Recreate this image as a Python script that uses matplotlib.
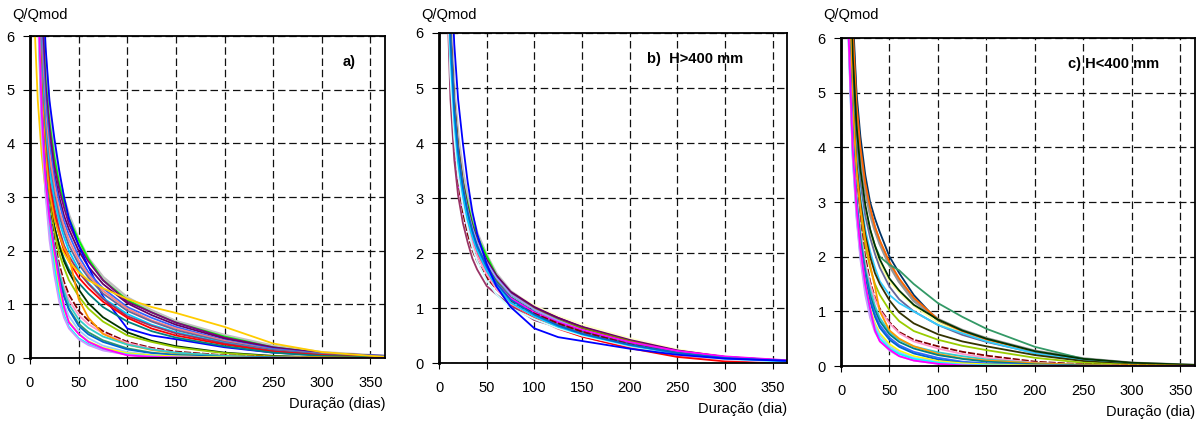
import matplotlib
matplotlib.use("Agg")
import matplotlib.pyplot as plt

plt.rcParams['font.family'] = ['Liberation Sans', 'DejaVu Sans']

dur = [4, 8, 12, 16, 20, 25, 30, 35, 40, 50, 60, 75, 100, 125, 150, 200, 250, 300, 365]

# ---- panel a) all stations
a_q = [
    [15, 9.5, 7.0, 5.5, 4.6, 3.9, 3.35, 2.95, 2.65, 2.2, 1.85, 1.5, 1.12, 0.88, 0.68, 0.42, 0.22, 0.1, 0.03],
    [14, 9.0, 6.6, 5.2, 4.4, 3.75, 3.25, 2.9, 2.6, 2.2, 1.85, 1.45, 1.08, 0.85, 0.66, 0.4, 0.2, 0.09, 0.03],
    [14, 9.0, 6.6, 5.1, 4.3, 3.6, 3.15, 2.8, 2.5, 2.1, 1.8, 1.45, 1.05, 0.85, 0.66, 0.38, 0.2, 0.09, 0.03],
    [13, 8.5, 6.2, 4.9, 4.1, 3.45, 3.0, 2.65, 2.4, 2.0, 1.7, 1.38, 1.02, 0.8, 0.62, 0.36, 0.19, 0.09, 0.04],
    [18, 10.5, 7.5, 5.8, 4.8, 4.1, 3.5, 3.0, 2.6, 2.1, 1.7, 1.15, 0.55, 0.42, 0.35, 0.2, 0.1, 0.05, 0.02],
    [13, 8.3, 6.0, 4.8, 4.0, 3.35, 2.9, 2.55, 2.3, 1.9, 1.6, 1.3, 0.95, 0.75, 0.58, 0.33, 0.17, 0.08, 0.04],
    [12, 7.8, 5.7, 4.5, 3.8, 3.2, 2.75, 2.45, 2.2, 1.82, 1.55, 1.25, 0.92, 0.7, 0.55, 0.32, 0.15, 0.07, 0.02],
    [12, 7.5, 5.5, 4.3, 3.6, 3.05, 2.65, 2.35, 2.1, 1.75, 1.5, 1.2, 0.88, 0.68, 0.52, 0.3, 0.15, 0.07, 0.03],
    [11, 7.2, 5.3, 4.2, 3.5, 2.95, 2.55, 2.25, 2.0, 1.65, 1.4, 1.12, 0.82, 0.62, 0.48, 0.28, 0.13, 0.06, 0.02],
    [11, 7.0, 5.1, 4.0, 3.3, 2.8, 2.4, 2.1, 1.9, 1.6, 1.38, 1.1, 0.78, 0.6, 0.46, 0.27, 0.13, 0.06, 0.02],
    [10, 6.6, 4.9, 3.8, 3.2, 2.7, 2.3, 2.0, 1.8, 1.5, 1.3, 1.05, 0.75, 0.55, 0.42, 0.25, 0.12, 0.05, 0.01],
    [10, 6.5, 4.7, 3.6, 2.95, 2.45, 2.1, 1.85, 1.65, 1.4, 1.2, 0.95, 0.68, 0.5, 0.38, 0.22, 0.1, 0.04, 0.01],
    [6.5, 4.8, 3.8, 3.1, 2.7, 2.35, 2.1, 1.95, 1.8, 1.6, 1.45, 1.3, 1.1, 0.95, 0.84, 0.58, 0.27, 0.11, 0.02],
    [11, 7.0, 4.8, 3.7, 3.0, 2.45, 2.1, 1.8, 1.6, 1.28, 1.02, 0.76, 0.48, 0.32, 0.22, 0.1, 0.04, 0.01, 0],
    [11, 6.9, 4.7, 3.6, 2.9, 2.35, 1.95, 1.68, 1.45, 1.15, 0.92, 0.68, 0.42, 0.3, 0.2, 0.09, 0.03, 0.01, 0],
    [11, 7.0, 4.7, 3.5, 2.8, 2.2, 1.75, 1.42, 1.18, 0.88, 0.7, 0.5, 0.3, 0.19, 0.12, 0.05, 0.02, 0, 0],
    [11, 7.0, 4.6, 3.4, 2.7, 2.1, 1.65, 1.32, 1.08, 0.8, 0.63, 0.46, 0.28, 0.17, 0.1, 0.04, 0.01, 0, 0],
    [11, 7.2, 5.0, 3.8, 3.1, 2.6, 2.3, 2.05, 1.9, 1.1, 0.75, 0.45, 0.25, 0.15, 0.09, 0.04, 0.02, 0.01, 0],
    [11, 6.8, 4.6, 3.4, 2.7, 2.1, 1.6, 1.25, 1.0, 0.72, 0.56, 0.4, 0.25, 0.16, 0.1, 0.04, 0.01, 0, 0],
    [10.5, 6.8, 4.5, 3.3, 2.6, 2.0, 1.5, 1.15, 0.92, 0.64, 0.48, 0.33, 0.18, 0.1, 0.06, 0.02, 0, 0, 0],
    [11, 7.2, 4.7, 3.4, 2.65, 2.0, 1.5, 1.15, 0.9, 0.6, 0.44, 0.3, 0.16, 0.09, 0.05, 0.02, 0.01, 0, 0],
    [10.5, 7.0, 4.5, 3.25, 2.5, 1.85, 1.35, 1.0, 0.78, 0.52, 0.37, 0.23, 0.11, 0.06, 0.03, 0.01, 0, 0, 0],
    [10.5, 6.8, 4.4, 3.2, 2.45, 1.8, 1.25, 0.9, 0.68, 0.45, 0.31, 0.19, 0.09, 0.05, 0.03, 0.01, 0, 0, 0],
    [10, 6.6, 4.3, 3.1, 2.35, 1.7, 1.15, 0.8, 0.58, 0.37, 0.26, 0.15, 0.07, 0.03, 0.01, 0, 0, 0, 0],
    [10, 6.5, 4.2, 3.05, 2.2, 1.55, 1.05, 0.75, 0.55, 0.35, 0.24, 0.14, 0.06, 0.03, 0.01, 0, 0, 0, 0],
    [11, 7.0, 4.6, 3.3, 2.6, 2.0, 1.45, 0.95, 0.66, 0.45, 0.3, 0.18, 0.05, 0.02, 0.01, 0, 0, 0, 0],
]
a_colors = ['#C0C0C0', '#00FF00', '#800080', '#660066', '#0000FF', '#3366FF', '#FF8080',
            '#666699', '#00CCFF', '#993366', '#FF0000', '#008080', '#FFCC00', '#003300',
            '#99CC00', '#800000', '#FF99CC', '#FF9900', '#33CCCC', '#339966', '#0066CC',
            '#99CCFF', '#FFFF00', '#00FFFF', '#CC99FF', '#FF00FF']

# ---- panel b) H > 400 mm
b_q = [
    [16, 9.0, 6.3, 4.9, 4.1, 3.45, 3.0, 2.65, 2.35, 1.95, 1.62, 1.3, 1.0, 0.8, 0.64, 0.4, 0.21, 0.1, 0.03],
    [15, 8.6, 6.0, 4.7, 3.9, 3.3, 2.9, 2.55, 2.3, 1.95, 1.6, 1.25, 0.98, 0.78, 0.62, 0.38, 0.2, 0.09, 0.03],
    [13, 7.5, 5.3, 4.2, 3.55, 3.0, 2.65, 2.35, 2.1, 1.8, 1.55, 1.3, 1.05, 0.85, 0.7, 0.45, 0.25, 0.12, 0.04],
    [15, 8.5, 5.9, 4.6, 3.85, 3.2, 2.8, 2.45, 2.2, 1.85, 1.58, 1.28, 1.0, 0.82, 0.65, 0.4, 0.22, 0.11, 0.04],
    [16, 8.8, 6.1, 4.75, 3.95, 3.3, 2.85, 2.5, 2.25, 1.88, 1.6, 1.3, 1.02, 0.82, 0.66, 0.42, 0.23, 0.11, 0.04],
    [15, 8.6, 6.0, 4.7, 3.9, 3.25, 2.8, 2.45, 2.2, 1.82, 1.52, 1.25, 0.98, 0.78, 0.63, 0.4, 0.2, 0.09, 0.03],
    [15, 8.5, 5.9, 4.6, 3.8, 3.2, 2.78, 2.45, 2.2, 1.83, 1.55, 1.25, 0.97, 0.77, 0.6, 0.37, 0.2, 0.1, 0.04],
    [15, 8.3, 5.8, 4.5, 3.75, 3.15, 2.7, 2.38, 2.12, 1.76, 1.48, 1.2, 0.93, 0.73, 0.58, 0.36, 0.19, 0.09, 0.03],
    [14, 8.0, 5.6, 4.35, 3.6, 3.0, 2.6, 2.3, 2.05, 1.72, 1.45, 1.16, 0.9, 0.7, 0.55, 0.34, 0.18, 0.08, 0.03],
    [14, 7.8, 5.3, 4.0, 3.3, 2.8, 2.45, 2.2, 2.0, 1.7, 1.45, 1.18, 0.92, 0.74, 0.6, 0.38, 0.22, 0.12, 0.05],
    [13, 7.6, 5.2, 4.0, 3.3, 2.75, 2.35, 2.05, 1.85, 1.55, 1.35, 1.12, 0.9, 0.72, 0.57, 0.34, 0.17, 0.07, 0.02],
    [12, 7.0, 4.8, 3.7, 3.05, 2.55, 2.2, 1.9, 1.7, 1.4, 1.25, 1.05, 0.78, 0.65, 0.52, 0.32, 0.17, 0.08, 0.02],
    [14, 8.0, 5.5, 4.3, 3.55, 2.95, 2.55, 2.25, 2.0, 1.65, 1.38, 1.1, 0.82, 0.62, 0.48, 0.28, 0.13, 0.05, 0.01],
    [14, 7.8, 5.4, 4.2, 3.5, 2.9, 2.5, 2.2, 1.97, 1.62, 1.36, 1.08, 0.83, 0.63, 0.48, 0.27, 0.11, 0.03, 0.0],
    [13, 7.6, 5.3, 4.15, 3.45, 2.9, 2.5, 2.2, 1.95, 1.62, 1.35, 1.08, 0.85, 0.66, 0.5, 0.3, 0.15, 0.06, 0.02],
    [13, 7.5, 5.2, 4.1, 3.4, 2.85, 2.45, 2.1, 1.85, 1.5, 1.25, 1.0, 0.8, 0.63, 0.5, 0.31, 0.16, 0.07, 0.02],
    [14, 8.0, 5.6, 4.4, 3.65, 3.05, 2.6, 2.3, 2.05, 1.68, 1.4, 1.1, 0.85, 0.66, 0.52, 0.32, 0.17, 0.08, 0.03],
    [15, 8.4, 5.9, 4.6, 3.85, 3.2, 2.75, 2.4, 2.12, 1.75, 1.45, 1.15, 0.88, 0.68, 0.53, 0.33, 0.18, 0.09, 0.04],
    [18, 10.5, 7.4, 5.8, 4.8, 4.0, 3.3, 2.75, 2.35, 1.8, 1.4, 1.02, 0.63, 0.47, 0.4, 0.26, 0.15, 0.08, 0.04],
]
b_colors = ['#C0C0C0', '#00FF00', '#FFFFCC', '#800080', '#660066', '#808000', '#9999FF',
            '#008080', '#666699', '#FF00FF', '#800000', '#993366', '#FF8080', '#FF0000',
            '#FF99CC', '#CCFFFF', '#00CCFF', '#0066CC', '#0000FF']

# ---- panel c) H < 400 mm
c_q = [
    [14, 8.4, 6.0, 4.7, 3.9, 3.25, 2.8, 2.5, 2.25, 1.85, 1.55, 1.2, 0.85, 0.65, 0.5, 0.27, 0.13, 0.05, 0.01],
    [15, 9.0, 6.5, 5.0, 4.2, 3.5, 3.0, 2.7, 2.45, 2.0, 1.7, 1.3, 0.82, 0.62, 0.48, 0.25, 0.12, 0.05, 0.01],
    [14, 8.5, 6.2, 4.8, 4.0, 3.35, 2.9, 2.55, 2.3, 1.9, 1.6, 1.25, 0.85, 0.62, 0.47, 0.25, 0.12, 0.05, 0.01],
    [13, 8.0, 5.6, 4.3, 3.5, 2.9, 2.5, 2.2, 2.0, 1.85, 1.75, 1.5, 1.15, 0.9, 0.68, 0.35, 0.13, 0.05, 0.01],
    [12, 7.5, 5.4, 4.2, 3.45, 2.85, 2.4, 2.1, 1.88, 1.55, 1.35, 1.1, 0.8, 0.6, 0.45, 0.24, 0.11, 0.05, 0.01],
    [12, 7.4, 5.3, 4.1, 3.35, 2.75, 2.35, 2.05, 1.8, 1.45, 1.22, 1.0, 0.75, 0.57, 0.44, 0.24, 0.11, 0.05, 0.01],
    [11, 7.0, 5.0, 3.8, 3.1, 2.5, 2.1, 1.8, 1.55, 1.3, 1.15, 1.0, 0.75, 0.6, 0.45, 0.23, 0.1, 0.04, 0.01],
    [13, 8.0, 5.7, 4.4, 3.6, 2.95, 2.5, 2.2, 1.95, 1.6, 1.38, 1.12, 0.85, 0.65, 0.5, 0.27, 0.13, 0.06, 0.02],
    [11, 7.0, 4.9, 3.7, 3.0, 2.4, 2.0, 1.7, 1.5, 1.2, 0.98, 0.78, 0.58, 0.45, 0.36, 0.2, 0.09, 0.03, 0.01],
    [11, 6.8, 4.7, 3.5, 2.8, 2.2, 1.8, 1.5, 1.3, 1.02, 0.82, 0.64, 0.48, 0.37, 0.29, 0.15, 0.06, 0.02, 0],
    [10, 6.5, 4.5, 3.3, 2.6, 2.0, 1.55, 1.25, 1.05, 0.8, 0.62, 0.48, 0.36, 0.26, 0.19, 0.08, 0.03, 0.01, 0],
    [10, 6.4, 4.4, 3.2, 2.5, 1.9, 1.5, 1.22, 1.02, 0.78, 0.6, 0.45, 0.32, 0.22, 0.15, 0.06, 0.02, 0, 0],
    [10, 6.3, 4.3, 3.1, 2.4, 1.8, 1.4, 1.1, 0.88, 0.62, 0.48, 0.36, 0.25, 0.18, 0.12, 0.05, 0.02, 0, 0],
    [11, 7.0, 4.8, 3.6, 2.9, 2.3, 1.85, 1.45, 1.0, 0.65, 0.5, 0.36, 0.22, 0.14, 0.1, 0.05, 0.02, 0.01, 0],
    [10, 6.2, 4.2, 3.0, 2.3, 1.72, 1.3, 1.02, 0.82, 0.58, 0.44, 0.32, 0.2, 0.13, 0.08, 0.03, 0.01, 0, 0],
    [10, 6.2, 4.2, 3.0, 2.25, 1.65, 1.22, 0.95, 0.75, 0.52, 0.38, 0.26, 0.15, 0.08, 0.05, 0.02, 0, 0, 0],
    [9.5, 6.0, 4.0, 2.9, 2.2, 1.6, 1.18, 0.9, 0.7, 0.48, 0.35, 0.23, 0.12, 0.06, 0.03, 0.01, 0, 0, 0],
    [9.5, 6.0, 4.0, 2.85, 2.1, 1.5, 1.05, 0.78, 0.6, 0.4, 0.28, 0.18, 0.09, 0.05, 0.03, 0.01, 0, 0, 0],
    [9.5, 5.9, 3.9, 2.8, 2.05, 1.45, 1.0, 0.74, 0.56, 0.36, 0.25, 0.15, 0.07, 0.03, 0.01, 0, 0, 0, 0],
    [9.5, 5.9, 3.85, 2.75, 2.0, 1.38, 0.95, 0.68, 0.5, 0.32, 0.22, 0.13, 0.06, 0.02, 0.01, 0, 0, 0, 0],
    [9, 5.8, 3.8, 2.7, 1.95, 1.3, 0.88, 0.62, 0.46, 0.28, 0.18, 0.1, 0.04, 0.01, 0, 0, 0, 0, 0],
    [9.5, 6.0, 4.0, 2.9, 2.15, 1.5, 1.05, 0.65, 0.45, 0.3, 0.18, 0.1, 0.04, 0.01, 0, 0, 0, 0, 0],
]
c_colors = ['#969696', '#003366', '#FF6600', '#339966', '#FFFF99', '#666699', '#33CCFF',
            '#003300', '#333300', '#99CC00', '#800000', '#FF99CC', '#33CCCC', '#FF9900',
            '#008080', '#3366FF', '#0066CC', '#FFFF00', '#99CCFF', '#00FFFF', '#CC99FF',
            '#FF00FF']

panels = [
    (a_q, a_colors, 'a)', 'Duração (dias)', [30, 36, 385, 358], 0.90),
    (b_q, b_colors, 'b)  H>400 mm', 'Duração (dia)', [439, 33, 787, 363], 0.735),
    (c_q, c_colors, 'c) H<400 mm', 'Duração (dia)', [841, 38, 1195, 366], 0.77),
]

W, H = 1200, 423
fig = plt.figure(figsize=(W / 100, H / 100), dpi=100)

for q, colors, tag, xlab, (x0, y0, x1, y1), tagx in panels:
    ax = fig.add_axes([x0 / W, 1 - y1 / H, (x1 - x0) / W, (y1 - y0) / H])
    ax.grid(True, color='#111111', linestyle=(0, (6, 3)), linewidth=0.9)
    ax.set_axisbelow(True)
    for vals, col in zip(q, colors):
        lw = 2.4 if col in ('#C0C0C0', '#969696') else 1.3
        ls = (0, (4, 1)) if col == '#800000' else '-'
        ax.plot(dur, vals, color=col, lw=lw, ls=ls)
    ax.set_xlim(0, 365)
    ax.set_ylim(0, 6)
    ax.set_xticks(range(0, 351, 50))
    ax.set_yticks(range(0, 7))
    ax.tick_params(axis='x', length=4, pad=9, labelsize=10.5, direction='out')
    ax.tick_params(axis='y', length=5, pad=6, labelsize=10.5, direction='out')
    for s in ax.spines.values():
        s.set_linewidth(1.3)
        s.set_color('black')
    ax.spines['left'].set_linewidth(2)
    ax.text(tagx, 0.92, tag, transform=ax.transAxes, ha='center', va='center',
            fontsize=10.5, fontweight='bold')
    fig.text((x0 - 18) / W, 1 - 15 / H, 'Q/Qmod', ha='left', va='center', fontsize=10.5)
    fig.text(x1 / W, 1 - (y1 + 46) / H, xlab, ha='right', va='center', fontsize=10.5)

fig.savefig('out.png', dpi=100)
